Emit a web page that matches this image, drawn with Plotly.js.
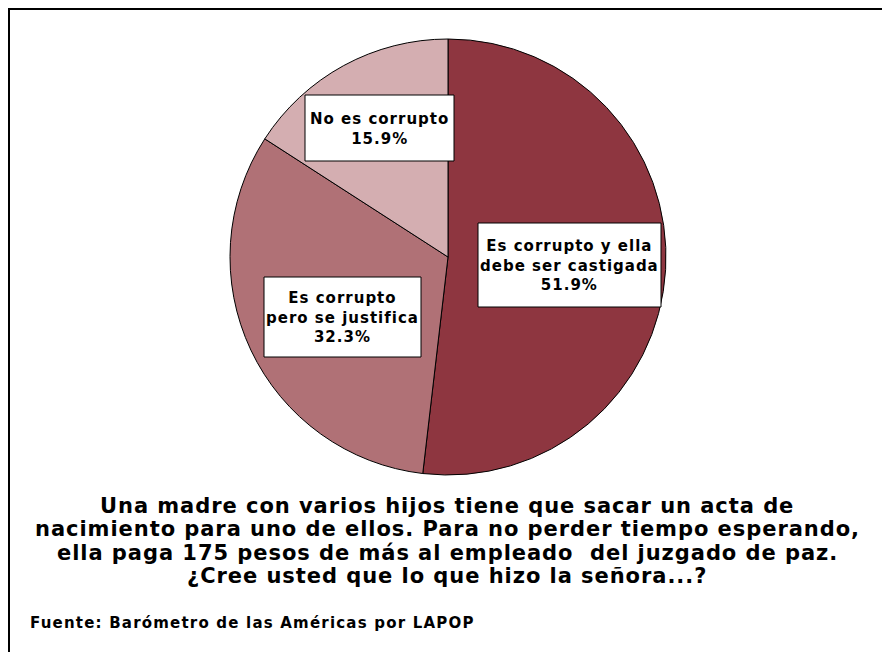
<!DOCTYPE html>
<html>
<head>
<meta charset="utf-8">
<script src="https://cdn.plot.ly/plotly-3.0.1.min.js"></script>
<style>html,body{margin:0;padding:0;background:#fff;}#chart{width:882px;height:652px;}</style>
</head>
<body>
<div id="chart"></div>
<script>
// ---- data ----
const categories = ["Es corrupto y ella debe ser castigada", "Es corrupto pero se justifica", "No es corrupto"];
const values = [51.9, 32.3, 15.9];
const labelLines = [["Es corrupto y ella", "debe ser castigada"], ["Es corrupto", "pero se justifica"], ["No es corrupto"]];
const colors = ["#8E3640", "#B07176", "#D4AEB1"];
const titleLines = [
  "Una madre con varios hijos tiene que sacar un acta de",
  "nacimiento para uno de ellos. Para no perder tiempo esperando,",
  "ella paga 175 pesos de más al empleado  del juzgado de paz.",
  "¿Cree usted que lo que hizo la señora...?"
];
const sourceText = "Fuente: Barómetro de las Américas por LAPOP";

// ---- layout helpers (pixel -> paper) ----
const W = 882, H = 652;
const fx = x => x / W;
const fy = y => 1 - y / H;
const FONT = "DejaVu Sans, Verdana, sans-serif";
const sp = (t, ls) => `<span style="letter-spacing:${ls}px">${t.replace(/  /g, ' &nbsp;')}</span>`;

// label boxes [left, top, right, bottom] and text block centre (y, px)
const boxes = [[478, 223, 661, 307], [264, 277, 421, 357], [305, 95, 454, 161]];
const textMid = [265, 317, 128.5];
const LFS = 15, LLS = 1.0;

const annotations = [];
const shapes = [];

boxes.forEach((b, i) => {
  shapes.push({type: 'rect', xref: 'paper', yref: 'paper', x0: fx(b[0]), x1: fx(b[2]), y0: fy(b[3]), y1: fy(b[1]),
    fillcolor: '#ffffff', line: {color: '#000000', width: 1}, layer: 'above'});
  const lines = labelLines[i].concat([values[i].toFixed(1) + '%']);
  const cx = (b[0] + b[2]) / 2;
  annotations.push({xref: 'paper', yref: 'paper', x: fx(cx), y: fy(textMid[i]),
    xanchor: 'center', yanchor: 'middle', align: 'center', showarrow: false,
    text: lines.map(t => sp(t, LLS)).join('<br>'),
    font: {family: FONT, size: LFS, color: '#000', weight: 'bold'}});
});

const TFS = 21, TLS = 0.95;
const titleBase = [513, 536.5, 560, 583.5];
titleLines.forEach((t, j) => {
  annotations.push({xref: 'paper', yref: 'paper', x: fx(447), y: fy(titleBase[j] - 0.35 * TFS),
    xanchor: 'center', yanchor: 'middle', showarrow: false, text: sp(t, TLS),
    font: {family: FONT, size: TFS, color: '#000', weight: 'bold'}});
});

const SFS = 15;
annotations.push({xref: 'paper', yref: 'paper', x: fx(28), y: fy(628 - 0.35 * SFS),
  xanchor: 'left', yanchor: 'middle', showarrow: false, text: sp(sourceText, 1.2),
  font: {family: FONT, size: SFS, color: '#000', weight: 'bold'}});

// frame (left and top edges)
shapes.push({type: 'line', xref: 'paper', yref: 'paper', x0: fx(9), x1: fx(9), y0: fy(9), y1: 0, line: {color: '#000', width: 2}, layer: 'above'});
shapes.push({type: 'line', xref: 'paper', yref: 'paper', x0: fx(8), x1: 1, y0: fy(9), y1: fy(9), line: {color: '#000', width: 2}, layer: 'above'});

const trace = {
  type: 'pie',
  labels: categories,
  values: values,
  sort: false,
  direction: 'clockwise',
  rotation: 0,
  textinfo: 'none',
  hoverinfo: 'none',
  marker: {colors: colors, line: {color: '#000000', width: 1}},
  domain: {x: [fx(230), fx(666)], y: [fy(475), fy(39)]},
  showlegend: false
};

const layout = {
  width: W, height: H,
  margin: {l: 0, r: 0, t: 0, b: 0},
  paper_bgcolor: '#ffffff',
  plot_bgcolor: '#ffffff',
  showlegend: false,
  annotations: annotations,
  shapes: shapes
};

Plotly.newPlot('chart', [trace], layout, {displayModeBar: false, staticPlot: true});
</script>
</body>
</html>
